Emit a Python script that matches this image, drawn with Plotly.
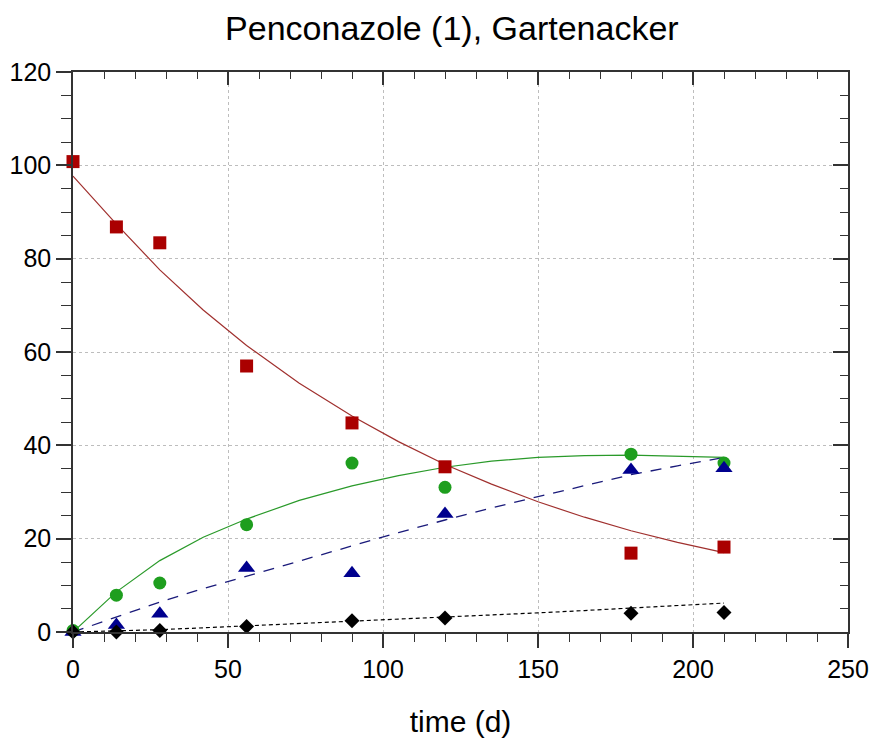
import plotly.graph_objects as go

# observed data
t_obs = [0, 14, 28, 56, 90, 120, 180, 210]
parent_obs = [100.8, 86.8, 83.4, 57.0, 44.8, 35.4, 16.9, 18.2]
met_green_obs = [0.3, 7.9, 10.5, 23.0, 36.2, 31.0, 38.1, 36.2]
met_blue_obs = [0.0, 1.5, 3.9, 13.7, 12.6, 25.3, 34.7, 35.1]
met_black_obs = [0.0, 0.0, 0.3, 1.2, 2.4, 3.0, 4.0, 4.2]

# fitted curves
t_fit = [0, 14, 28, 42, 56, 73, 90, 105, 120, 135, 150, 165, 180, 195, 210]
parent_fit = [97.7, 87.4, 77.6, 69.0, 61.4, 53.3, 46.3, 40.8, 35.9, 31.7, 27.9, 24.6, 21.7, 19.2, 17.0]
green_fit = [0.0, 8.6, 15.3, 20.3, 24.2, 28.2, 31.3, 33.5, 35.3, 36.6, 37.4, 37.8, 37.9, 37.7, 37.4]
blue_fit = [0.0, 3.2, 6.4, 9.3, 12.0, 15.2, 18.4, 21.3, 24.0, 26.6, 29.0, 31.4, 33.7, 35.6, 37.4]
black_fit = [0.0, 0.2, 0.5, 0.9, 1.3, 1.8, 2.3, 2.7, 3.1, 3.6, 4.1, 4.6, 5.1, 5.6, 6.2]

x_ticks = [0, 50, 100, 150, 200, 250]
y_ticks = [0, 20, 40, 60, 80, 100, 120]

RED_M = "#AA0000"
RED_L = "#A0302E"
GREEN_M = "#1E9E1E"
GREEN_L = "#2A9A2A"
BLUE_M = "#00008E"
BLUE_L = "#1A1A7A"
BLACK = "#000000"

fig = go.Figure()

fig.add_trace(go.Scatter(x=t_fit, y=parent_fit, mode="lines",
                         line=dict(color=RED_L, width=1.2), showlegend=False))
fig.add_trace(go.Scatter(x=t_fit, y=green_fit, mode="lines",
                         line=dict(color=GREEN_L, width=1.2), showlegend=False))
fig.add_trace(go.Scatter(x=t_fit, y=blue_fit, mode="lines",
                         line=dict(color=BLUE_L, width=1.3, dash="11px,9px"), showlegend=False))
fig.add_trace(go.Scatter(x=t_fit, y=black_fit, mode="lines",
                         line=dict(color=BLACK, width=1.2, dash="4px,3px"), showlegend=False))

fig.add_trace(go.Scatter(x=t_obs, y=parent_obs, mode="markers", cliponaxis=False,
                         marker=dict(symbol="square", size=13, color=RED_M), showlegend=False))
fig.add_trace(go.Scatter(x=t_obs, y=met_green_obs, mode="markers", cliponaxis=False,
                         marker=dict(symbol="circle", size=13, color=GREEN_M), showlegend=False))
fig.add_trace(go.Scatter(x=t_obs, y=met_blue_obs, mode="markers", cliponaxis=False,
                         marker=dict(symbol="triangle-up", size=15, color=BLUE_M), showlegend=False))
fig.add_trace(go.Scatter(x=t_obs, y=met_black_obs, mode="markers", cliponaxis=False,
                         marker=dict(symbol="diamond", size=11.5, color=BLACK), showlegend=False))

# invisible trace to activate mirror axes
fig.add_trace(go.Scatter(x=[None], y=[None], xaxis="x2", yaxis="y2",
                         mode="markers", showlegend=False, hoverinfo="skip"))

AX = "#333333"
GRID = "#BDBDBD"
font_family = "Liberation Sans, Arial, sans-serif"

fig.update_layout(
    width=869, height=738,
    margin=dict(l=73, r=21, t=72, b=106),
    paper_bgcolor="white", plot_bgcolor="white",
    font=dict(family=font_family, color="black"),
    title=dict(text="Penconazole (1), Gartenacker", x=0.52, xanchor="center",
               y=0.962, yanchor="middle", font=dict(size=34, family=font_family)),
    xaxis=dict(range=[0, 250], tickvals=x_ticks, ticks="outside", ticklen=14,
               tickwidth=1.5, tickcolor=AX, showline=True, linecolor=AX, linewidth=1.5,
               showgrid=True, gridcolor=GRID, griddash="3px,3px", gridwidth=1,
               zeroline=False, tickfont=dict(size=25), automargin=False,
               minor=dict(dtick=10, tick0=0, ticks="outside", ticklen=8,
                          tickcolor=AX, tickwidth=1.2, showgrid=False),
               title=dict(text="time (d)", font=dict(size=30), standoff=30)),
    yaxis=dict(range=[0, 120], tickvals=y_ticks, ticks="outside", ticklen=15,
               tickwidth=1.5, tickcolor=AX, showline=True, linecolor=AX, linewidth=1.5,
               showgrid=True, gridcolor=GRID, griddash="3px,3px", gridwidth=1,
               zeroline=False, tickfont=dict(size=25), automargin=False,
               minor=dict(dtick=5, tick0=0, ticks="outside", ticklen=10,
                          tickcolor=AX, tickwidth=1.2, showgrid=False)),
    xaxis2=dict(range=[0, 250], overlaying="x", side="top", tickvals=x_ticks,
                ticks="inside", ticklen=13, tickwidth=1.5, tickcolor=AX,
                showline=True, linecolor=AX, linewidth=1.5, showgrid=False,
                zeroline=False, showticklabels=False,
                minor=dict(dtick=10, tick0=0, ticks="inside", ticklen=7,
                           tickcolor=AX, tickwidth=1.2, showgrid=False)),
    yaxis2=dict(range=[0, 120], overlaying="y", side="right", tickvals=y_ticks,
                ticks="inside", ticklen=15, tickwidth=1.5, tickcolor=AX,
                showline=True, linecolor=AX, linewidth=1.5, showgrid=False,
                zeroline=False, showticklabels=False,
                minor=dict(dtick=5, tick0=0, ticks="inside", ticklen=8,
                           tickcolor=AX, tickwidth=1.2, showgrid=False)),
)

fig.write_html("out.html")
